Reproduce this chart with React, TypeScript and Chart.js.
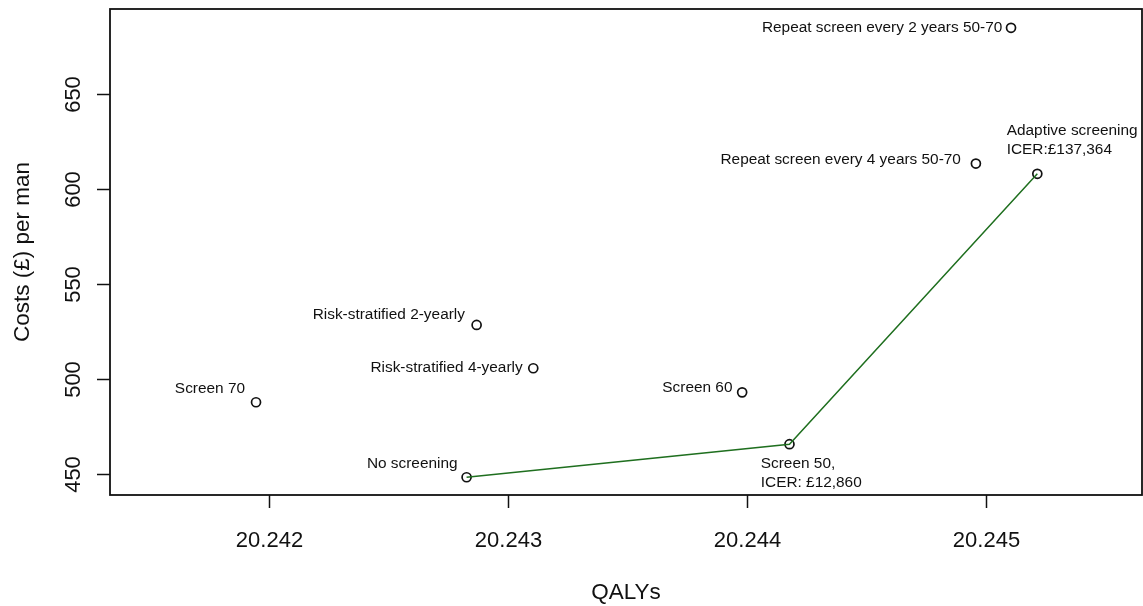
import React, { useEffect, useRef } from "react";
import { Chart, registerables } from "chart.js";

Chart.register(...registerables);

// Strategies compared on the cost-effectiveness plane
const strategies: string[][] = [
  ["No screening"],
  ["Screen 50,", "ICER: £12,860"],
  ["Screen 60"],
  ["Screen 70"],
  ["Risk-stratified 2-yearly"],
  ["Risk-stratified 4-yearly"],
  ["Repeat screen every 4 years 50-70"],
  ["Repeat screen every 2 years 50-70"],
  ["Adaptive screening", "ICER:£137,364"],
];
const qalys = [
  20.242827, 20.244178, 20.24398, 20.241946, 20.242869, 20.243106, 20.244958,
  20.245105, 20.245215,
];
const costs = [448.3, 465.7, 493.0, 487.8, 528.5, 505.7, 613.5, 685.0, 608.1];

// Strategies on the efficiency frontier, in order
const frontier = [0, 1, 8];

// Axis ticks
const xTicks = [20.242, 20.243, 20.244, 20.245];
const yTicks = [450, 500, 550, 600, 650];
const xTitle = "QALYs";
const yTitle = "Costs (£) per man";

// Label placement relative to each point: [dx, baseline dy, align]
const labelPlacement: [number, number, CanvasTextAlign][] = [
  [-9, -9, "right"],
  [-28.7, 24, "left"],
  [-9.7, 0, "right"],
  [-11, -9, "right"],
  [-11.7, -5.7, "right"],
  [-10.6, 3.4, "right"],
  [-15, 0.3, "right"],
  [-8.7, 4.3, "right"],
  [-30.6, -39, "left"],
];

const FONT = '"Liberation Sans", Arial, sans-serif';
const INK = "#111";

const decorations = {
  id: "rBaseDecorations",
  beforeDatasetsDraw(chart: Chart) {
    const { ctx, chartArea } = chart;
    const { left, right, top, bottom } = chartArea;
    ctx.save();
    ctx.strokeStyle = INK;
    ctx.lineWidth = 1.8;
    ctx.strokeRect(left, top, right - left, bottom - top);
    ctx.restore();
  },
  afterDatasetsDraw(chart: Chart) {
    const { ctx, chartArea } = chart;
    const { left, right, top, bottom } = chartArea;
    const xs = chart.scales.x;
    const ys = chart.scales.y;
    ctx.save();
    ctx.fillStyle = INK;
    ctx.strokeStyle = INK;
    ctx.lineWidth = 1.5;

    // x axis ticks and labels
    ctx.font = `22px ${FONT}`;
    ctx.textAlign = "center";
    ctx.textBaseline = "alphabetic";
    xTicks.forEach((v) => {
      const px = Math.round(xs.getPixelForValue(v)) + 0.5;
      ctx.beginPath();
      ctx.moveTo(px, bottom);
      ctx.lineTo(px, bottom + 13);
      ctx.stroke();
      ctx.fillText(v.toFixed(3), px, bottom + 51.7);
    });

    // y axis ticks and rotated labels
    yTicks.forEach((v) => {
      const py = Math.round(ys.getPixelForValue(v)) + 0.5;
      ctx.beginPath();
      ctx.moveTo(left - 13, py);
      ctx.lineTo(left, py);
      ctx.stroke();
      ctx.save();
      ctx.translate(left - 30, py);
      ctx.rotate(-Math.PI / 2);
      ctx.fillText(String(v), 0, 0);
      ctx.restore();
    });

    // axis titles
    ctx.font = `22.5px ${FONT}`;
    ctx.fillText(xTitle, (left + right) / 2, 599.3);
    ctx.save();
    ctx.translate(28.5, (top + bottom) / 2);
    ctx.rotate(-Math.PI / 2);
    ctx.fillText(yTitle, 0, 0);
    ctx.restore();

    // point labels
    ctx.font = `15.4px ${FONT}`;
    strategies.forEach((lines, i) => {
      const px = xs.getPixelForValue(qalys[i]);
      const py = ys.getPixelForValue(costs[i]);
      const [dx, dy, align] = labelPlacement[i];
      ctx.textAlign = align;
      lines.forEach((line, k) => {
        ctx.fillText(line, px + dx, py + dy + k * 19);
      });
    });
    ctx.restore();
  },
};

export default function App() {
  const ref = useRef<HTMLCanvasElement | null>(null);

  useEffect(() => {
    if (!ref.current) return;
    const points = qalys.map((q, i) => ({ x: q, y: costs[i] }));
    const frontierPoints = frontier.map((i) => ({ x: qalys[i], y: costs[i] }));
    const chart = new Chart(ref.current, {
      type: "scatter",
      data: {
        datasets: [
          {
            type: "line",
            label: "Efficiency frontier",
            data: frontierPoints,
            borderColor: "#1f6f1f",
            borderWidth: 1.5,
            pointRadius: 0,
            tension: 0,
            fill: false,
            order: 0,
          },
          {
            label: "Strategies",
            data: points,
            pointRadius: 4.5,
            pointBorderWidth: 1.7,
            borderColor: INK,
            backgroundColor: "rgba(0,0,0,0)",
            pointBackgroundColor: "rgba(0,0,0,0)",
            order: 1,
          },
        ],
      },
      options: {
        responsive: false,
        animation: false,
        layout: {
          autoPadding: false,
          padding: { left: 110, top: 9, right: 1, bottom: 111 },
        },
        plugins: { legend: { display: false }, tooltip: { enabled: false } },
        scales: {
          x: { type: "linear", min: 20.241335, max: 20.245653, display: false },
          y: { type: "linear", min: 438.94, max: 694.9, display: false },
        },
      },
      plugins: [decorations],
    });
    return () => chart.destroy();
  }, []);

  return (
    <div
      style={{
        position: "absolute",
        left: 0,
        top: 0,
        width: 1143,
        height: 606,
        background: "#fff",
      }}
    >
      <canvas ref={ref} width={1143} height={606} />
    </div>
  );
}
